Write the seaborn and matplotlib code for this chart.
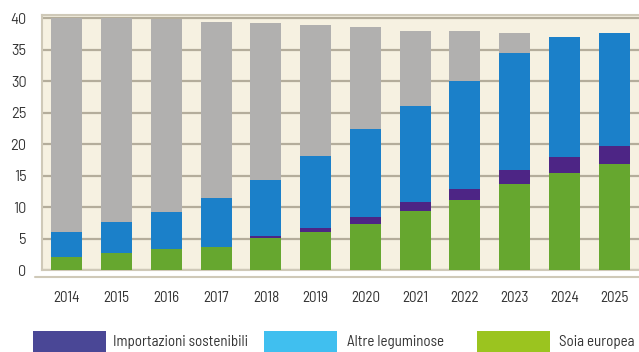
import matplotlib
matplotlib.use("Agg")
import matplotlib.pyplot as plt
from matplotlib.patches import Rectangle
from matplotlib.lines import Line2D
import seaborn as sns
import pandas as pd
import numpy as np

years = ["2014", "2015", "2016", "2017", "2018", "2019", "2020", "2021", "2022", "2023", "2024", "2025"]
soia_europea = [2.0, 2.7, 3.3, 3.7, 5.1, 6.0, 7.3, 9.4, 11.1, 13.6, 15.4, 16.8]
importazioni_sostenibili = [0.0, 0.0, 0.0, 0.0, 0.3, 0.6, 1.1, 1.4, 1.8, 2.3, 2.5, 2.9]
altre_leguminose = [4.0, 4.9, 5.9, 7.7, 8.9, 11.5, 14.0, 15.2, 17.1, 18.5, 19.1, 17.9]
importazioni_convenzionali = [34.0, 32.4, 30.6, 28.0, 24.9, 20.8, 16.2, 11.9, 7.9, 3.2, 0.0, 0.0]
y_ticks = [0, 5, 10, 15, 20, 25, 30, 35, 40]

df = pd.DataFrame({
    "anno": years,
    "Soia europea": soia_europea,
    "Importazioni sostenibili": importazioni_sostenibili,
    "Altre leguminose": altre_leguminose,
    "Importazioni convenzionali": importazioni_convenzionali,
})

sns.set_theme(style="white")
plt.rcParams["font.family"] = ["Barlow Semi Condensed", "DejaVu Sans"]

bar_colors = {
    "Soia europea": "#66a72f",
    "Importazioni sostenibili": "#4d2585",
    "Altre leguminose": "#1b80c9",
    "Importazioni convenzionali": "#b1b0af",
}
legend_colors = [
    ("Importazioni sostenibili", "#4a4796"),
    ("Altre leguminose", "#40bfef"),
    ("Soia europea", "#9bc41f"),
]

fig = plt.figure(figsize=(6.39, 3.52), dpi=100)
ax = fig.add_axes([42 / 639, 1 - 270 / 352, 597 / 639, 255 / 352])
ax.set_facecolor("#f6f1e1")

bottom = np.zeros(len(years))
for series in ["Soia europea", "Importazioni sostenibili", "Altre leguminose", "Importazioni convenzionali"]:
    vals = df[series].to_numpy()
    sns.barplot(x=df["anno"], y=vals, bottom=bottom, color=bar_colors[series],
                saturation=1, width=0.62, ax=ax, zorder=3, linewidth=0)
    bottom = bottom + vals

ax.set_xlim(-0.5, len(years) - 0.5)
ax.set_ylim(0, 40.5)
ax.set_yticks(y_ticks)
ax.set_yticklabels([str(t) for t in y_ticks], family=["Barlow", "DejaVu Sans"])
ax.yaxis.grid(True, color="#b4ad9b", linewidth=1.6, zorder=0)
ax.set_axisbelow(True)
ax.set_xlabel("")
ax.set_ylabel("")
ax.tick_params(axis="y", length=0, pad=11, labelsize=10.5, labelcolor="#333333")
ax.tick_params(axis="x", length=0, pad=15, labelsize=10.8, labelcolor="#333333")

for side in ["left", "top", "bottom"]:
    ax.spines[side].set_color("#cfc9b8")
    ax.spines[side].set_linewidth(1.5)
ax.spines["right"].set_visible(False)

# secondary baseline below the plotting area
fig.add_artist(Line2D([35 / 639, 1.0], [1 - 277 / 352, 1 - 277 / 352],
                      color="#cfc9b8", linewidth=1.5, transform=fig.transFigure))

# legend row along the bottom edge
patch_x = [33, 264, 477]
text_x = [113, 347, 559]
for (label, color), px, tx in zip(legend_colors, patch_x, text_x):
    fig.add_artist(Rectangle((px / 639, 0), 73 / 639, 21 / 352, transform=fig.transFigure,
                             facecolor=color, edgecolor="none"))
    fig.text(tx / 639, 1 - 342 / 352, label, fontsize=10.8, color="#333333",
             va="center", ha="left")

fig.savefig("out.png", dpi=100)
